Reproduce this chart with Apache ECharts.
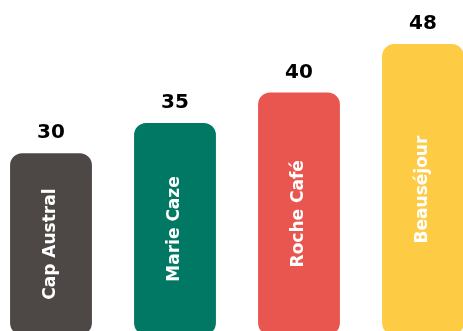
<!DOCTYPE html>
<html>
<head>
<meta charset="utf-8">
<script src="https://cdn.jsdelivr.net/npm/echarts@6/dist/echarts.min.js"></script>
<style>
  html, body { margin: 0; padding: 0; background: #fff; overflow: hidden; width: 463px; height: 331px; }
  /* chart area is a bit wider/taller than the window, outer bars get clipped like in the reference */
  #chart { width: 496px; height: 335px; margin-left: -11px; }
</style>
</head>
<body>
<div id="chart"></div>
<script>
const names = ['Cap Austral', 'Marie Caze', 'Roche Café', 'Beauséjour'];
const values = [30, 35, 40, 48];
const colors = ['#4d4845', '#007864', '#e9554f', '#fdcb44'];

const chart = echarts.init(document.getElementById('chart'));
chart.setOption({
  animation: false,
  grid: { left: 0, right: 0, top: 32, bottom: 0 },
  xAxis: {
    type: 'category',
    data: names,
    show: false
  },
  yAxis: {
    type: 'value',
    min: 0,
    max: 50,
    show: false
  },
  series: [
    {
      type: 'bar',
      barWidth: '66%',
      data: values.map((v, i) => ({ value: v, itemStyle: { color: colors[i] } })),
      itemStyle: { borderRadius: 12 },
      label: {
        show: true,
        position: 'inside',
        rotate: 90,
        formatter: p => p.name,
        color: '#fff',
        fontFamily: 'DejaVu Sans',
        fontWeight: 'bold',
        fontSize: 17
      }
    },
    {
      type: 'bar',
      barWidth: '66%',
      barGap: '-100%',
      data: values,
      itemStyle: { color: 'transparent' },
      label: {
        show: true,
        position: 'top',
        distance: 10,
        color: '#000',
        fontFamily: 'DejaVu Sans',
        fontWeight: 'bold',
        fontSize: 20
      }
    }
  ]
});
</script>
</body>
</html>
